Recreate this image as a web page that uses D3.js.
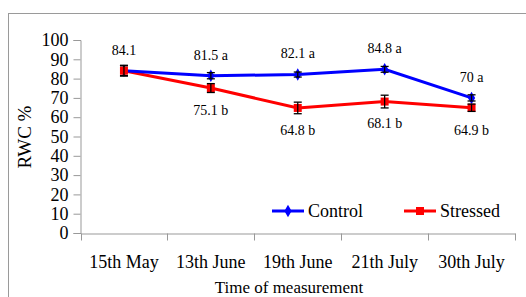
<!DOCTYPE html>
<html>
<head>
<meta charset="utf-8">
<script src="https://cdn.jsdelivr.net/npm/d3@7"></script>
<style>
  body { margin: 0; background: #fff; }
</style>
</head>
<body>
<script>
// data
const dates = ['15th May', '13th June', '19th June', '21th July', '30th July'];
const controlValues = [84.1, 81.5, 82.1, 84.8, 70];
const stressedValues = [84.1, 75.1, 64.8, 68.1, 64.9];
const controlErr = [2.5, 1.6, 1.3, 1.5, 1.6];
const stressedErr = [2.8, 2.3, 3.0, 3.3, 1.9];
const controlLabels = ['84.1', '81.5 a', '82.1 a', '84.8 a', '70 a'];
const stressedLabels = ['', '75.1 b', '64.8 b', '68.1 b', '64.9 b'];
const yTicks = [0, 10, 20, 30, 40, 50, 60, 70, 80, 90, 100];

const width = 526, height = 297;
const serif = "'Liberation Serif', 'Times New Roman', serif";

const svg = d3.select('body').append('svg')
    .attr('width', width)
    .attr('height', height);

// outer frame
svg.append('rect')
    .attr('x', 8.5).attr('y', 13.5)
    .attr('width', 530).attr('height', 300)
    .attr('fill', 'none')
    .attr('stroke', '#9a9a9a')
    .attr('stroke-width', 1);

const x = d3.scaleBand()
    .domain(dates)
    .range([80.5, 515]);

const y = d3.scaleLinear()
    .domain([0, 100])
    .range([233, 40]);

// y axis
const yAxis = svg.append('g')
    .attr('transform', 'translate(80.5,0)')
    .call(d3.axisLeft(y).tickValues(yTicks).tickSize(7).tickPadding(5));
yAxis.selectAll('text').style('font-size', '18px');

// x axis
const xAxis = svg.append('g')
    .attr('transform', 'translate(0,233.5)')
    .call(d3.axisBottom(x).tickSize(0).tickPadding(22));
xAxis.selectAll('text').style('font-size', '18px');
// ticks at band edges
xAxis.selectAll('.edge')
    .data(dates.map(d => x(d)).concat([x.range()[1]]))
    .enter().append('line')
    .attr('class', 'edge')
    .attr('x1', d => Math.round(d) + 0.5).attr('x2', d => Math.round(d) + 0.5)
    .attr('y1', 0).attr('y2', 7);

svg.selectAll('.domain, .tick line, .edge')
    .attr('stroke', '#999');

// axis titles
svg.append('text')
    .attr('x', 289).attr('y', 293)
    .attr('text-anchor', 'middle')
    .style('font-size', '17px')
    .text('Time of measurement');

svg.append('text')
    .attr('transform', 'translate(31,137) rotate(-90)')
    .attr('text-anchor', 'middle')
    .style('font-size', '19px')
    .text('RWC  %');

const cx = d => x(d) + x.bandwidth() / 2;

const line = d3.line()
    .x(d => cx(d.date))
    .y(d => y(d.value));

const series = [
  { name: 'Control', color: '#0000ff', values: controlValues, err: controlErr, shape: d3.symbolDiamond, size: 45 },
  { name: 'Stressed', color: '#ff0000', values: stressedValues, err: stressedErr, shape: d3.symbolSquare, size: 64 }
];

series.slice().reverse().forEach(s => {
  const pts = dates.map((d, i) => ({ date: d, value: s.values[i], err: s.err[i] }));
  svg.append('path')
      .datum(pts)
      .attr('fill', 'none')
      .attr('stroke', s.color)
      .attr('stroke-width', 3)
      .attr('d', line);
});

series.forEach(s => {
  const pts = dates.map((d, i) => ({ date: d, value: s.values[i], err: s.err[i] }));
  svg.selectAll(null)
      .data(pts)
      .enter().append('path')
      .attr('transform', d => `translate(${cx(d.date)},${y(d.value)})`)
      .attr('d', d3.symbol().type(s.shape).size(s.size))
      .attr('fill', s.color);

  const eb = svg.selectAll(null)
      .data(pts)
      .enter().append('g')
      .attr('stroke', '#000')
      .attr('stroke-width', 1.3);
  eb.append('line')
      .attr('x1', d => cx(d.date)).attr('x2', d => cx(d.date))
      .attr('y1', d => y(d.value + d.err)).attr('y2', d => y(d.value - d.err));
  eb.append('line')
      .attr('x1', d => cx(d.date) - 4).attr('x2', d => cx(d.date) + 4)
      .attr('y1', d => y(d.value + d.err)).attr('y2', d => y(d.value + d.err));
  eb.append('line')
      .attr('x1', d => cx(d.date) - 4).attr('x2', d => cx(d.date) + 4)
      .attr('y1', d => y(d.value - d.err)).attr('y2', d => y(d.value - d.err));
});

// value labels
svg.selectAll('.lab-c')
    .data(dates)
    .enter().append('text')
    .attr('x', d => cx(d))
    .attr('y', (d, i) => y(controlValues[i]) - 21)
    .attr('dy', '0.35em')
    .attr('text-anchor', 'middle')
    .style('font-size', '14px')
    .text((d, i) => controlLabels[i]);

svg.selectAll('.lab-s')
    .data(dates)
    .enter().append('text')
    .attr('x', d => cx(d))
    .attr('y', (d, i) => y(stressedValues[i]) + 22)
    .attr('dy', '0.35em')
    .attr('text-anchor', 'middle')
    .style('font-size', '14px')
    .text((d, i) => stressedLabels[i]);

// legend
const legendX = [272, 404];
series.forEach((s, i) => {
  const g = svg.append('g').attr('transform', `translate(${legendX[i]},211)`);
  g.append('line')
      .attr('x1', 0).attr('x2', 32)
      .attr('stroke', s.color).attr('stroke-width', 3);
  g.append('path')
      .attr('transform', 'translate(16,0)')
      .attr('d', d3.symbol().type(s.shape).size(s.size))
      .attr('fill', s.color);
  g.append('text')
      .attr('x', 36).attr('dy', '0.35em')
      .style('font-size', '18px')
      .text(s.name);
});

// serif everywhere, black text
svg.selectAll('text')
    .style('font-family', serif)
    .attr('fill', '#000');
</script>
</body>
</html>
